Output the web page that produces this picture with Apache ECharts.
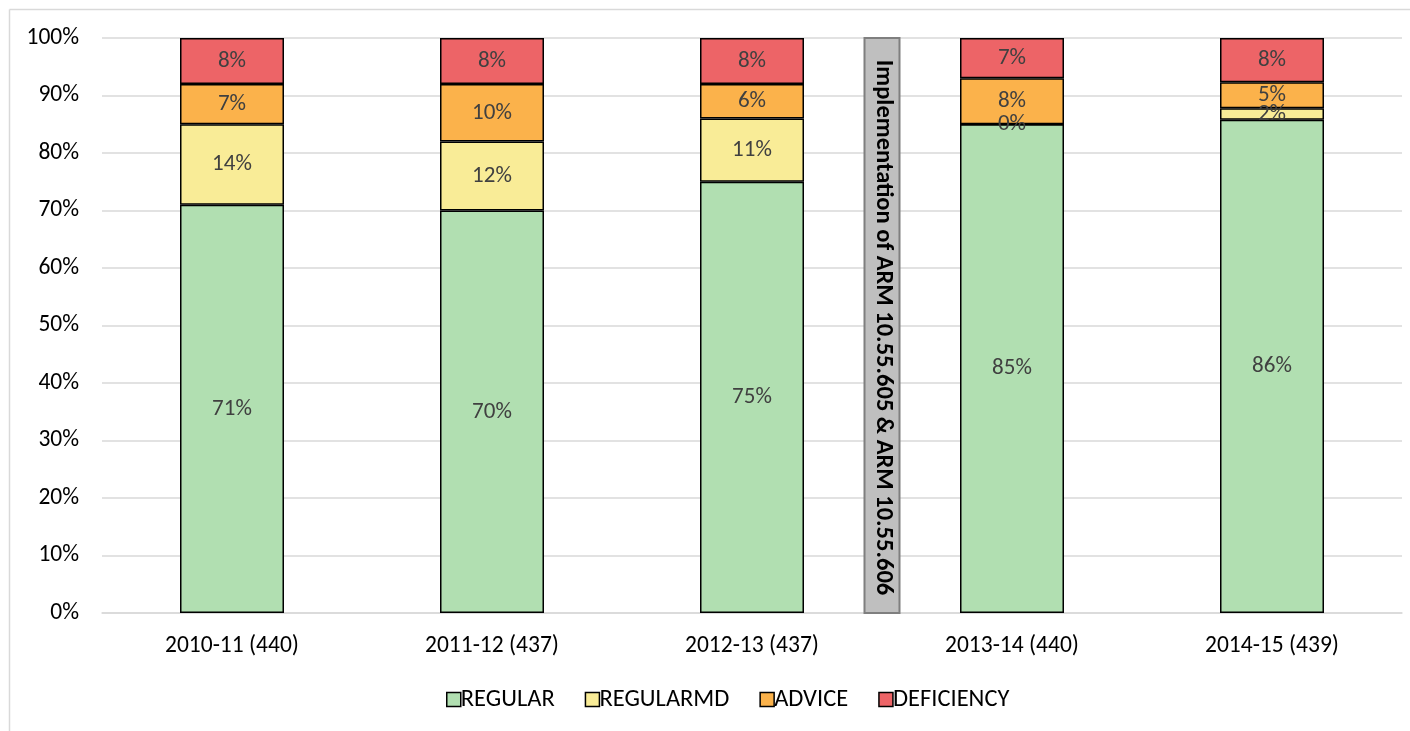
<!DOCTYPE html>
<html>
<head>
<meta charset="utf-8">
<script src="https://cdn.jsdelivr.net/npm/echarts@6/dist/echarts.min.js"></script>
<style>html,body{margin:0;padding:0;background:#fff;}#c{width:1410px;height:731px;}</style>
</head>
<body>
<div id="c"></div>
<script>
const categories = ['2010-11 (440)', '2011-12 (437)', '2012-13 (437)', '2013-14 (440)', '2014-15 (439)'];
const regular    = [71, 70, 75, 85, 85.8];
const regularMD  = [14, 12, 11, 0, 2];
const advice     = [7, 10, 6, 8, 4.5];
const deficiency = [8, 8, 8, 7, 7.7];
const yTicks = [0, 10, 20, 30, 40, 50, 60, 70, 80, 90, 100];
const annotationPos = [3];   // boundary between 2012-13 and 2013-14 (category index units)
const annotationText = 'Implementation of ARM 10.55.605 & ARM 10.55.606';

const FONT = 'Carlito, Lato, "Liberation Sans", sans-serif';
const chart = echarts.init(document.getElementById('c'), null, {renderer: 'canvas'});

function barSeries(name, data, color) {
  return {
    name: name, type: 'bar', stack: 'total', data: data, barWidth: 104,
    itemStyle: {color: color, borderColor: '#000', borderWidth: 1.5},
    label: {show: true, position: 'inside', color: '#404040', fontSize: 23, fontFamily: FONT,
      formatter: p => Math.round(p.value) + '%'},
    emphasis: {disabled: true}
  };
}

chart.setOption({
  animation: false,
  textStyle: {fontFamily: FONT},
  grid: {left: 102, right: 8, top: 38, bottom: 118, containLabel: false},
  legend: {
    top: 682, left: 441, itemWidth: 14, itemHeight: 14, itemGap: 30,
    icon: 'rect',
    textStyle: {fontSize: 24.5, color: '#000', fontFamily: FONT, padding: [0, 0, 0, -5]},
    itemStyle: {borderColor: '#000', borderWidth: 1.5},
    data: ['REGULAR', 'REGULARMD', 'ADVICE', 'DEFICIENCY']
  },
  xAxis: [{
    type: 'category', data: categories,
    axisLine: {show: true, lineStyle: {color: '#d9d9d9', width: 1.5}},
    axisTick: {show: false},
    axisLabel: {fontSize: 23.5, color: '#000', margin: 21, fontFamily: FONT}
  }, {
    type: 'value', min: 0, max: 5, show: false
  }],
  yAxis: {
    type: 'value', min: 0, max: 100, interval: 10,
    axisLine: {show: false}, axisTick: {show: false},
    splitLine: {lineStyle: {color: '#d9d9d9', width: 1.5}},
    axisLabel: {fontSize: 23.5, color: '#000', margin: 23, fontFamily: FONT,
      formatter: v => yTicks.includes(v) ? v + '%' : ''}
  },
  series: [
    barSeries('REGULAR', regular, '#b1dfb1'),
    barSeries('REGULARMD', regularMD, '#f9ec97'),
    barSeries('ADVICE', advice, '#fbb24b'),
    barSeries('DEFICIENCY', deficiency, '#ed6467'),
    {
      type: 'custom', xAxisIndex: 1, data: annotationPos.map(v => [v]), silent: true, z: 10,
      renderItem: function (params, api) {
        const top = api.coord([api.value(0), 100]);
        const bot = api.coord([api.value(0), 0]);
        const w = 35;
        const h = bot[1] - top[1];
        return {
          type: 'group',
          children: [{
            type: 'rect',
            shape: {x: top[0] - w / 2, y: top[1], width: w, height: h},
            style: {fill: '#bfbfbf', stroke: '#7f7f7f', lineWidth: 2}
          }, {
            type: 'text',
            x: top[0] + 1, y: top[1] + h / 2 + 2, rotation: -Math.PI / 2,
            style: {text: annotationText, fill: '#000', fontSize: 24.5, fontWeight: 'bold',
              fontFamily: FONT, align: 'center', verticalAlign: 'middle'}
          }]
        };
      }
    }
  ],
  graphic: [
    {type: 'line', shape: {x1: 9.5, y1: 9.5, x2: 1410, y2: 9.5}, style: {stroke: '#d9d9d9', lineWidth: 1.5}},
    {type: 'line', shape: {x1: 9.5, y1: 9.5, x2: 9.5, y2: 731}, style: {stroke: '#d9d9d9', lineWidth: 1.5}}
  ]
});
</script>
</body>
</html>
